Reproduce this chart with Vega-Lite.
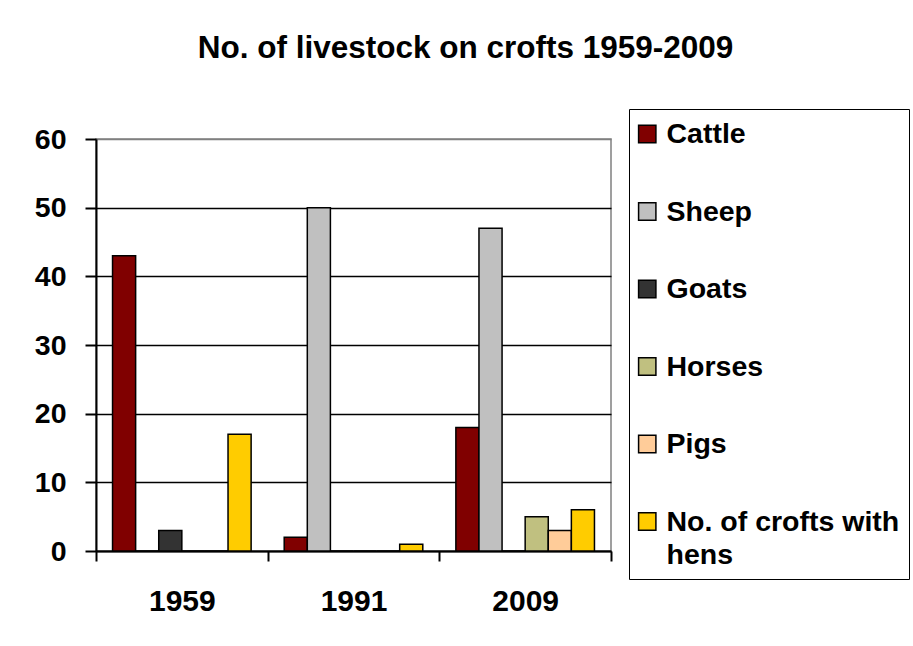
{
  "$schema": "https://vega.github.io/schema/vega-lite/v6.json",
  "width": 515,
  "height": 412,
  "autosize": {"type": "none"},
  "padding": {"left": 96, "top": 139, "right": 302, "bottom": 95},
  "background": "white",
  "title": {
    "text": "No. of livestock on crofts 1959-2009",
    "font": "Liberation Sans",
    "fontSize": 31.5,
    "fontWeight": "bold",
    "color": "black",
    "anchor": "middle",
    "dx": 112,
    "offset": 44
  },
  "data": {
    "values": [
      {"year": "1959", "series": "Cattle", "value": 43},
      {"year": "1959", "series": "Sheep", "value": 0},
      {"year": "1959", "series": "Goats", "value": 3},
      {"year": "1959", "series": "Horses", "value": 0},
      {"year": "1959", "series": "Pigs", "value": 0},
      {"year": "1959", "series": "No. of crofts with hens", "value": 17},
      {"year": "1991", "series": "Cattle", "value": 2},
      {"year": "1991", "series": "Sheep", "value": 50},
      {"year": "1991", "series": "Goats", "value": 0},
      {"year": "1991", "series": "Horses", "value": 0},
      {"year": "1991", "series": "Pigs", "value": 0},
      {"year": "1991", "series": "No. of crofts with hens", "value": 1},
      {"year": "2009", "series": "Cattle", "value": 18},
      {"year": "2009", "series": "Sheep", "value": 47},
      {"year": "2009", "series": "Goats", "value": 0},
      {"year": "2009", "series": "Horses", "value": 5},
      {"year": "2009", "series": "Pigs", "value": 3},
      {"year": "2009", "series": "No. of crofts with hens", "value": 6}
    ]
  },
  "mark": {"type": "bar", "stroke": "black", "strokeWidth": 1.5},
  "encoding": {
    "x": {
      "field": "year",
      "type": "nominal",
      "scale": {"paddingInner": 0, "paddingOuter": 0},
      "axis": {
        "title": null,
        "labelAngle": 0,
        "tickBand": "extent",
        "tickSize": 10,
        "tickWidth": 2,
        "tickColor": "black",
        "domainColor": "black",
        "domainWidth": 2,
        "labelFont": "Liberation Sans",
        "labelFontSize": 30,
        "labelFontWeight": "bold",
        "labelColor": "black",
        "labelPadding": 25,
        "grid": false
      }
    },
    "xOffset": {
      "field": "series",
      "type": "nominal",
      "sort": ["Cattle", "Sheep", "Goats", "Horses", "Pigs", "No. of crofts with hens"],
      "scale": {
        "domain": ["Cattle", "Sheep", "Goats", "Horses", "Pigs", "No. of crofts with hens"],
        "paddingInner": 0,
        "paddingOuter": 0.716
      }
    },
    "y": {
      "field": "value",
      "type": "quantitative",
      "scale": {"domain": [0, 60], "nice": false},
      "axis": {
        "title": null,
        "values": [0, 10, 20, 30, 40, 50, 60],
        "labelFont": "Liberation Sans",
        "labelFontSize": 28.5,
        "labelFontWeight": "bold",
        "labelColor": "black",
        "labelPadding": 19,
        "tickSize": 11,
        "tickWidth": 2,
        "tickColor": "black",
        "domainColor": "black",
        "domainWidth": 2,
        "grid": true,
        "gridColor": {"condition": {"test": "datum.value === 60", "value": "#808080"}, "value": "black"},
        "gridWidth": 1.6
      }
    },
    "color": {
      "field": "series",
      "type": "nominal",
      "scale": {
        "domain": ["Cattle", "Sheep", "Goats", "Horses", "Pigs", "No. of crofts with hens"],
        "range": ["#800000", "#C0C0C0", "#333333", "#C0C080", "#FFCC99", "#FFCC00"]
      },
      "legend": {
        "orient": "none",
        "legendX": 533,
        "legendY": -30,
        "title": null,
        "symbolType": "M-1,-0.8L1,-0.8L1,1.2L-1,1.2Z",
        "symbolSize": 300,
        "symbolStrokeColor": "black",
        "symbolStrokeWidth": 1.5,
        "symbolOpacity": 1,
        "symbolOffset": -5,
        "labelFont": "Liberation Sans",
        "labelFontSize": 28.5,
        "labelFontWeight": "bold",
        "labelColor": "black",
        "labelOffset": 5,
        "labelLimit": 400,
        "rowPadding": 46.5,
        "padding": 9,
        "strokeColor": "black",
        "labelExpr": "datum.label === 'No. of crofts with hens' ? ['No. of crofts with', 'hens'] : datum.label",
        "encode": {
          "labels": {"update": {"dy": {"value": 2}, "lineHeight": {"signal": "datum.value === 'No. of crofts with hens' ? 33 : 29"}}}
        }
      }
    }
  },
  "config": {
    "view": {"stroke": "#808080", "strokeWidth": 1.5},
    "font": "Liberation Sans"
  }
}
